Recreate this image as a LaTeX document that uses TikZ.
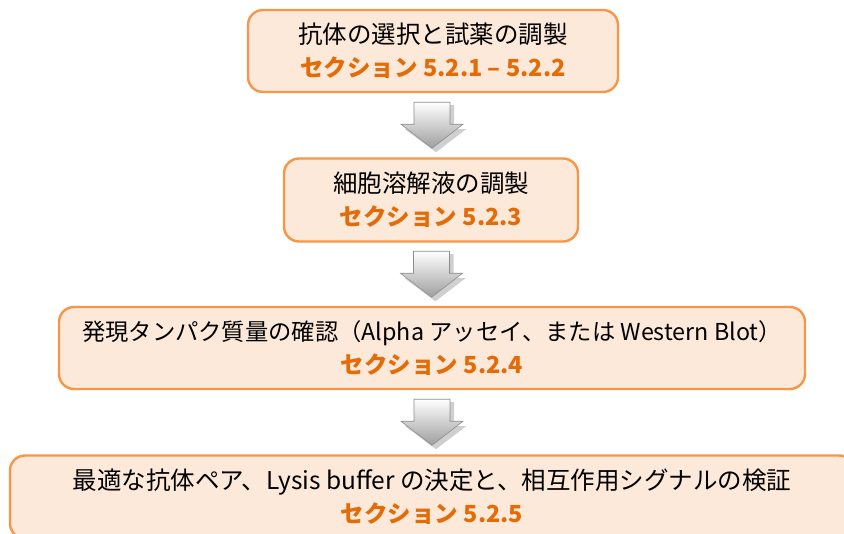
\documentclass[tikz,border=0pt]{standalone}
\usepackage{fontspec}
\setmainfont{Noto Sans CJK JP}
\usetikzlibrary{calc}
\definecolor{boxfill}{HTML}{FDE9D9}
\definecolor{boxline}{HTML}{F79646}
\definecolor{secorange}{HTML}{E36C09}
\definecolor{arrline}{HTML}{8C8C8C}
\definecolor{arrshadow}{HTML}{CFCFCF}
\tikzset{
  stepbox/.style={draw=boxline, line width=2.4pt, fill=boxfill, rounded corners=15pt,
    align=center, inner sep=0pt, font=\fontsize{24.5}{33}\selectfont},
  blockarrow/.pic={
    \fill[arrshadow] (-15,3) -- (22,3) -- (22,27) -- (34,27) -- (4,50) -- (-27,27) -- (-15,27) -- cycle;
    \shade[top color=white, bottom color=black!38, draw=arrline, line width=0.6pt]
      (-18,0) -- (18,0) -- (18,22) -- (31,22) -- (0,46) -- (-31,22) -- (-18,22) -- cycle;
  }
}
\newcommand{\sect}[1]{{\fontsize{23.5}{33}\selectfont\bfseries\color{secorange}#1}}
\begin{document}
\begin{tikzpicture}[x=1pt,y=-1pt]
\useasboundingbox (0,0) rectangle (844,534);
\clip (0,0) rectangle (844,534);
\node[stepbox, minimum width=370pt, minimum height=82pt] (b1) at (433,51)
  {抗体の選択と試薬の調製\\\sect{セクション 5.2.1 – 5.2.2}};
\node[stepbox, minimum width=294pt, minimum height=83pt] (b2) at (431,200)
  {細胞溶解液の調製\\\sect{セクション 5.2.3}};
\node[stepbox, minimum width=746pt, minimum height=82pt, font=\fontsize{23.3}{33}\selectfont] (b3) at (432,348)
  {発現タンパク質量の確認（Alpha アッセイ、または Western Blot）\\\sect{セクション 5.2.4}};
\node[stepbox, minimum width=844pt, minimum height=83pt] (b4) at (432,497)
  {最適な抗体ペア、Lysis buffer の決定と、相互作用シグナルの検証\\\sect{セクション 5.2.5}};
\coordinate (a1) at ($(b1.south)!0.5!(b2.north)$);
\coordinate (a2) at ($(b2.south)!0.5!(b3.north)$);
\coordinate (a3) at ($(b3.south)!0.5!(b4.north)$);
\pic at ($(a1)+(0,-23)$) {blockarrow};
\pic at ($(a2)+(0,-23)$) {blockarrow};
\pic at ($(a3)+(0,-23)$) {blockarrow};
\end{tikzpicture}
\end{document}
